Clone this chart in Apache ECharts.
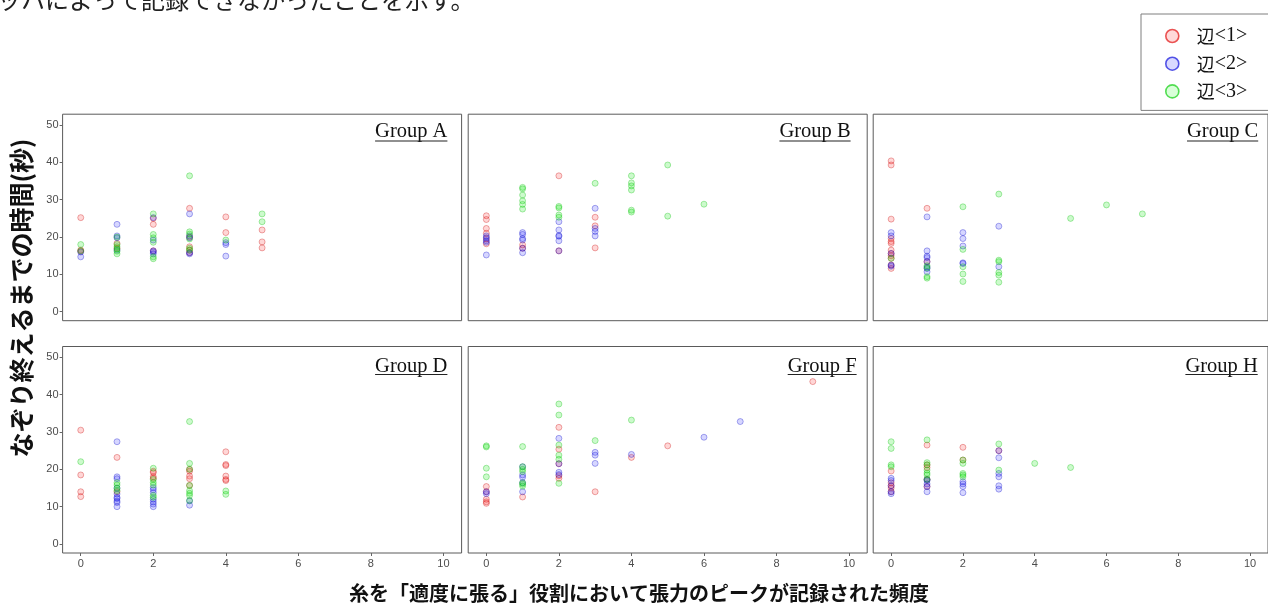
<!DOCTYPE html>
<html><head><meta charset="utf-8">
<script src="https://cdn.jsdelivr.net/npm/echarts@6/dist/echarts.min.js"></script>
<style>html,body{margin:0;padding:0;background:#fff}#c{width:1268px;height:604px}</style>
</head><body><div id="c"></div><script>
// ---------- data ----------
const groupNames = ['Group A', 'Group B', 'Group C', 'Group D', 'Group F', 'Group H'];
const edgeNames = ['辺<1>', '辺<2>', '辺<3>'];
const xTicks = [0, 2, 4, 6, 8, 10];
const yTicks = [0, 10, 20, 30, 40, 50];

const A1 = [[0,25.2],[0,16.5],[0,16.2],[1,18.3],[1,17.0],[2,23.4],[2,25.0],[2,16.3],[3,27.7],[3,20.0],[3,17.4],[3,16.5],[3,15.8],[4,25.4],[4,21.2],[5,21.9],[5,18.7],[5,17.1]];
const A2 = [[0,14.7],[0,16.0],[1,23.4],[1,20.3],[1,19.8],[1,16.5],[2,25.2],[2,19.2],[2,16.3],[2,16.0],[2,15.5],[3,26.2],[3,20.3],[3,19.8],[3,15.8],[3,15.5],[4,18.5],[4,18.0],[4,14.9]];
const A3 = [[0,18.0],[0,16.3],[1,20.0],[1,18.0],[1,17.4],[1,16.8],[1,16.2],[1,15.5],[2,26.2],[2,20.7],[2,19.8],[2,18.6],[2,14.7],[2,14.2],[3,36.4],[3,21.4],[3,20.8],[3,19.5],[3,17.0],[3,16.5],[4,19.2],[5,26.2],[5,24.1]];

const B1 = [[0,25.7],[0,24.7],[0,22.3],[0,21.0],[0,19.5],[0,18.2],[1,17.9],[1,17.0],[2,36.4],[2,16.3],[3,25.3],[3,23.0],[3,17.1]];
const B2 = [[0,20.3],[0,19.8],[0,19.0],[0,18.6],[0,15.2],[1,21.2],[1,20.7],[1,19.6],[1,19.2],[1,17.0],[1,15.8],[2,24.1],[2,21.9],[2,20.4],[2,20.2],[2,19.0],[2,16.3],[3,27.7],[3,22.3],[3,21.5],[3,20.3]];
const B3 = [[1,33.3],[1,32.9],[1,31.25],[1,29.7],[1,28.75],[1,27.5],[2,28.2],[2,27.8],[2,25.9],[2,25.3],[3,34.4],[4,36.4],[4,34.5],[4,33.7],[4,32.6],[4,27.2],[4,26.7],[5,39.3],[5,25.6],[6,28.8]];

const C1 = [[0,40.4],[0,39.3],[0,24.8],[0,19.6],[0,18.8],[0,18.3],[0,16.5],[0,15.6],[0,15.0],[0,14.3],[0,12.5],[0,11.6],[1,27.7],[1,13.4]];
const C2 = [[0,21.2],[0,20.3],[0,15.6],[0,12.5],[0,12.2],[1,25.4],[1,16.3],[1,14.9],[1,14.5],[1,13.4],[1,12.0],[1,11.6],[1,10.7],[2,21.2],[2,19.6],[2,17.6],[2,13.1],[2,12.9],[3,22.9],[3,12.05]];
const C3 = [[0,14.3],[1,12.3],[1,11.7],[1,9.4],[1,9.0],[2,28.1],[2,16.7],[2,12.05],[2,10.1],[2,8.1],[3,31.5],[3,13.8],[3,13.4],[3,10.5],[3,9.8],[3,7.9],[5,25.0],[6,28.6],[7,26.2]];

const D1 = [[0,30.5],[0,18.5],[0,14.0],[0,12.7],[1,23.2],[1,14.0],[2,19.5],[2,19.1],[2,18.0],[2,17.6],[3,20.0],[3,19.5],[3,18.2],[3,17.5],[3,15.7],[4,24.7],[4,21.3],[4,21.0],[4,18.2],[4,17.3],[4,17.0]];
const D2 = [[1,27.4],[1,18.0],[1,17.5],[1,15.0],[1,13.4],[1,12.5],[1,12.2],[1,11.5],[1,11.1],[1,10.0],[2,15.1],[2,14.5],[2,13.75],[2,12.0],[2,11.3],[2,10.7],[2,10.0],[3,11.6],[3,10.4]];
const D3 = [[0,22.05],[1,16.4],[1,15.8],[1,14.9],[1,14.3],[2,20.3],[2,17.3],[2,16.5],[2,15.8],[2,13.0],[2,12.5],[3,32.8],[3,21.6],[3,20.0],[3,15.7],[3,14.3],[3,13.6],[3,13.0],[3,11.6],[4,14.2],[4,13.3]];

const F1 = [[0,15.4],[0,14.0],[0,12.0],[0,11.3],[0,10.9],[1,12.6],[2,31.25],[2,25.4],[2,21.5],[2,18.3],[2,17.6],[3,14.0],[4,23.2],[5,26.3],[9,43.5]];
const F2 = [[0,14.0],[0,13.5],[1,20.7],[1,18.5],[1,17.9],[1,16.4],[1,14.0],[2,28.3],[2,21.5],[2,19.2],[2,18.6],[3,24.55],[3,23.8],[3,21.6],[4,24.0],[6,28.6],[7,32.8]];
const F3 = [[0,26.3],[0,26.0],[0,20.3],[0,18.0],[1,26.1],[1,20.7],[1,20.0],[1,19.4],[1,16.4],[1,16.0],[1,15.5],[2,37.5],[2,34.55],[2,26.5],[2,23.8],[2,22.7],[2,16.25],[3,27.7],[4,33.2]];

const H1 = [[0,19.55],[0,16.4],[0,15.6],[0,15.0],[0,14.0],[1,26.5],[1,21.2],[1,20.5],[1,17.3],[1,15.4],[2,25.9],[2,22.5],[3,25.0]];
const H2 = [[0,17.6],[0,17.0],[0,15.6],[0,14.0],[0,13.5],[1,17.3],[1,17.0],[1,16.1],[1,15.4],[1,14.0],[2,16.7],[2,16.1],[2,15.4],[2,13.75],[3,25.0],[3,23.1],[3,18.9],[3,18.0],[3,15.6],[3,14.7]];
const H3 = [[0,27.4],[0,25.6],[0,21.2],[0,20.7],[1,27.9],[1,21.8],[1,21.2],[1,19.8],[1,19.0],[1,18.5],[1,17.3],[2,22.5],[2,21.6],[2,18.9],[2,18.5],[2,18.0],[3,26.8],[3,19.8],[4,21.6],[5,20.5]];

const panelData = [[A1,A2,A3],[B1,B2,B3],[C1,C2,C3],[D1,D2,D3],[F1,F2,F3],[H1,H2,H3]];

// ---------- layout / style ----------
const colLeft = [62.6, 468.2, 873.2];
const colWidth = 399;
const rowTop = [114.2, 346.5];
const rowHeight = 206.5;
const titleRightPad = [14.2, 16.6, 14, 14.2, 10.6, 14.5];
const fills = ['rgba(255,0,0,0.2)', 'rgba(0,0,255,0.2)', 'rgba(0,230,0,0.25)'];
const borders = ['rgba(200,0,0,0.4)', 'rgba(0,0,200,0.4)', 'rgba(0,190,0,0.4)'];
const legendBorders = ['#e52a2a', '#2a2ae0', '#2ad42a'];
const legendFills = ['rgba(255,120,120,0.35)', 'rgba(120,120,255,0.35)', 'rgba(120,255,120,0.35)'];

const grids = [], xAxes = [], yAxes = [], series = [], graphics = [];
const measureCtx = document.createElement('canvas').getContext('2d');
const titleFont = '20.5px "Liberation Serif"';
measureCtx.font = titleFont;

for (let i = 0; i < 6; i++) {
  const r = Math.floor(i / 3), c = i % 3;
  const left = colLeft[c], top = rowTop[r];
  grids.push({ left: left, top: top, width: colWidth, height: rowHeight, show: true,
    borderColor: '#5a5a5a', borderWidth: 1, backgroundColor: '#fff', containLabel: false });
  xAxes.push({ type: 'value', gridIndex: i, min: -0.5, max: 10.5, position: 'bottom',
    axisLine: { show: false, onZero: false }, splitLine: { show: false },
    axisTick: { show: r === 1, customValues: xTicks, length: 3, lineStyle: { color: '#666' } },
    axisLabel: { show: r === 1, customValues: xTicks, color: '#4d4d4d', fontSize: 11, margin: 5,
      fontFamily: 'Liberation Sans' } });
  yAxes.push({ type: 'value', gridIndex: i, min: -2.4, max: 52.9, position: 'left',
    axisLine: { show: false, onZero: false }, splitLine: { show: false },
    axisTick: { show: c === 0, customValues: yTicks, length: 3, lineStyle: { color: '#666' } },
    axisLabel: { show: c === 0, customValues: yTicks, color: '#4d4d4d', fontSize: 11, margin: 4,
      fontFamily: 'Liberation Sans' } });
  for (let k = 0; k < 3; k++) {
    series.push({ type: 'scatter', name: edgeNames[k], xAxisIndex: i, yAxisIndex: i,
      data: panelData[i][k], symbol: 'circle', symbolSize: 6, silent: true,
      itemStyle: { color: fills[k], borderColor: borders[k], borderWidth: 1 } });
  }
  // facet title with underline
  const tx = left + colWidth - titleRightPad[i];
  const tw = measureCtx.measureText(groupNames[i]).width;
  const ty = top + (r === 0 ? 17.8 : 20.2);
  graphics.push({ type: 'text', x: tx, y: ty, z: 10,
    style: { text: groupNames[i], font: titleFont, fill: '#111', textAlign: 'right', textVerticalAlign: 'middle' } });
  graphics.push({ type: 'rect', z: 10, shape: { x: tx - tw, y: top + (r === 0 ? 26.3 : 27.6), width: tw, height: 1 },
    style: { fill: '#222' } });
}

graphics.push({ type: 'text', x: -3, y: 0,
  style: { text: 'ッハによって記録できなかったことを示す。', font: '24px "Noto Sans CJK JP"', fill: '#222',
    textAlign: 'left', textVerticalAlign: 'middle' } });
graphics.push({ type: 'text', x: 639, y: 593,
  style: { text: '糸を「適度に張る」役割において張力のピークが記録された頻度', font: 'bold 20px "Noto Sans CJK JP"',
    fill: '#111', textAlign: 'center', textVerticalAlign: 'middle' } });
graphics.push({ type: 'text', x: 21, y: 298, rotation: Math.PI / 2,
  style: { text: 'なぞり終えるまでの時間(秒)', font: 'bold 25px "Noto Sans CJK JP"',
    fill: '#111', textAlign: 'center', textVerticalAlign: 'middle' } });

const chart = echarts.init(document.getElementById('c'), null, { renderer: 'canvas' });
chart.setOption({
  animation: false,
  backgroundColor: '#fff',
  grid: grids, xAxis: xAxes, yAxis: yAxes, series: series,
  legend: {
    orient: 'vertical', left: 1141, top: 14, padding: [12, 60, 9, 24], itemGap: 7.7,
    itemWidth: 13, itemHeight: 13, borderColor: '#7f7f7f', borderWidth: 1, backgroundColor: '#fff',
    selectedMode: false,
    data: edgeNames.map((n, k) => ({ name: n, icon: 'circle',
      itemStyle: { color: legendFills[k], borderColor: legendBorders[k], borderWidth: 1.6 } })),
    formatter: n => '{c|' + n.charAt(0) + '}{s|' + n.slice(1) + '}',
    textStyle: { rich: {
      c: { fontFamily: 'Noto Sans CJK JP', fontSize: 18, color: '#111', lineHeight: 19, padding: [0, 0, 0, 13] },
      s: { fontFamily: 'Liberation Serif', fontSize: 20, color: '#111', lineHeight: 19 } } }
  },
  graphic: graphics
});
</script></body></html>
